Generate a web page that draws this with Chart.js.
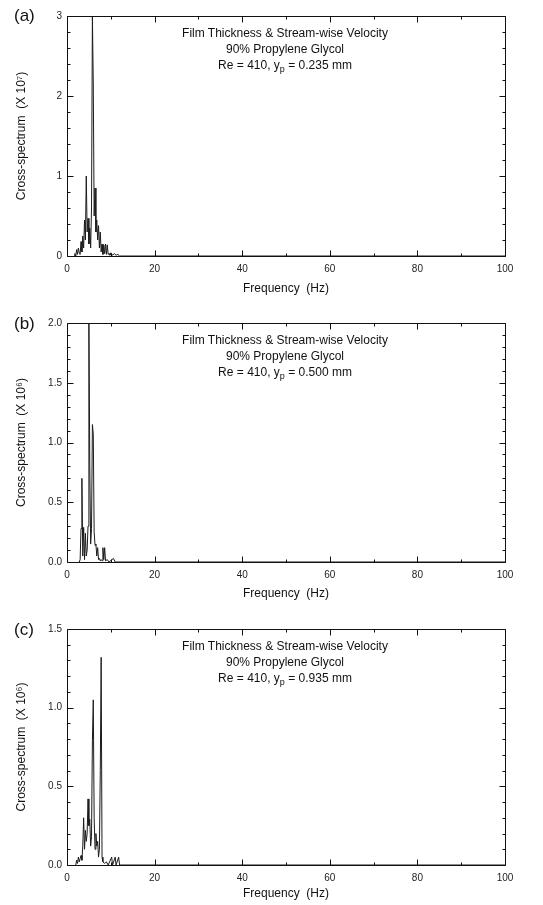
<!DOCTYPE html>
<html>
<head>
<meta charset="utf-8">
<script src="https://cdn.jsdelivr.net/npm/chart.js@4.4.1/dist/chart.umd.min.js"></script>
<style>
  html, body { margin:0; padding:0; background:#fff; }
  body { width:543px; height:905px; position:relative; overflow:hidden; font-family:"Liberation Sans", Arial, sans-serif; color:#111; }
  .wrap { position:absolute; left:0; width:543px; }
  .note { position:absolute; width:320px; text-align:center; font-size:12px; line-height:16px; }
  .plabel { position:absolute; font-size:17px; }
  sub { font-size:9px; vertical-align:-3px; line-height:0; }
</style>
</head>
<body>
<div class="wrap" style="top:0;height:300px"><canvas id="cA"></canvas></div>
<div class="wrap" style="top:300px;height:305px"><canvas id="cB"></canvas></div>
<div class="wrap" style="top:605px;height:300px"><canvas id="cC"></canvas></div>

<div class="plabel" style="left:14px;top:6px">(a)</div>
<div class="plabel" style="left:14px;top:314px">(b)</div>
<div class="plabel" style="left:14px;top:620px">(c)</div>

<div class="note" style="left:125px;top:25px">Film Thickness &amp; Stream-wise Velocity<br>90% Propylene Glycol<br>Re = 410, y<sub>p</sub> = 0.235 mm</div>
<div class="note" style="left:125px;top:332px">Film Thickness &amp; Stream-wise Velocity<br>90% Propylene Glycol<br>Re = 410, y<sub>p</sub> = 0.500 mm</div>
<div class="note" style="left:125px;top:638px">Film Thickness &amp; Stream-wise Velocity<br>90% Propylene Glycol<br>Re = 410, y<sub>p</sub> = 0.935 mm</div>

<script>
// ---------- DATA ----------
const xTickLabels = [0, 20, 40, 60, 80, 100];

// Panel (a): y_p = 0.235 mm, values in units of 1e7
const freqA = [1.6,1.8,2.0,2.2,2.4,2.6,2.8,3.0,3.2,3.4,3.6,3.8,4.0,4.2,4.4,4.6,4.8,5.0,5.2,5.4,5.6,5.8,6.0,6.2,6.4,6.6,6.8,7.0,7.2,7.4,7.6,7.8,8.0,8.2,8.4,8.6,8.8,9.0,9.2,9.4,9.6,9.8,10.0,10.4,10.8,11.2,11.6,12.0,100];
const crossA = [0,0.03,0,0.08,0.02,0.1,0.04,0.02,0.18,0.05,0.25,0.1,0.45,0.2,1.0,0.3,0.47,0.15,0.35,0.1,0.6,3.0,2.15,0.5,0.85,0.3,0.45,0.2,0.38,0.1,0.3,0.05,0.15,0.02,0.14,0.03,0.15,0.02,0.14,0.02,0.03,0.01,0.04,0.01,0.03,0.01,0.02,0,0];

// Panel (b): y_p = 0.500 mm, values in units of 1e6
const freqB = [2.8,3.0,3.2,3.4,3.6,3.8,4.0,4.2,4.4,4.6,4.8,5.0,5.2,5.4,5.6,5.8,6.0,6.2,6.4,6.6,6.8,7.0,7.2,7.4,7.6,7.8,8.0,8.2,8.4,8.6,8.8,9.2,9.6,10.6,11.0,100];
const crossB = [0,0.02,0.28,0.7,0.05,0.29,0.02,0.24,0.05,0.1,0.3,2.0,0.81,0.15,0.28,1.15,1.07,0.25,0.14,0.15,0.05,0.12,0.02,0.03,0.01,0.02,0.01,0.12,0.02,0.12,0.01,0.02,0,0.03,0,0];

// Panel (c): y_p = 0.935 mm, values in units of 1e6
const freqC = [2.0,2.2,2.4,2.6,2.8,3.0,3.2,3.4,3.6,3.8,4.0,4.2,4.4,4.6,4.8,5.0,5.2,5.4,5.6,5.8,6.0,6.2,6.4,6.6,6.8,7.0,7.2,7.4,7.6,7.8,8.0,8.2,8.6,9.0,9.4,10.2,10.4,11.0,11.2,11.8,12.0,100];
const crossC = [0,0.03,0.01,0.05,0.02,0.04,0.06,0.03,0.12,0.3,0.1,0.22,0.15,0.2,0.42,0.25,0.29,0.12,0.18,0.79,1.05,0.3,0.1,0.2,0.12,0.15,0.05,0.1,0.6,1.32,0.05,0.02,0.01,0.02,0,0.05,0,0.05,0,0.05,0,0];

const yTicksA = [0, 1, 2, 3];
const yTicksB = [0.0, 0.5, 1.0, 1.5, 2.0];
const yTicksC = [0.0, 0.5, 1.0, 1.5];

// ---------- STYLE / RENDER ----------
const FONT = '"Liberation Sans", Arial, sans-serif';

const frameTicks = {
  id: 'frameTicks',
  afterDatasetsDraw(chart, args, opts) {
    const { ctx, chartArea: { left, right, top, bottom }, scales: { x, y } } = chart;
    ctx.save();
    ctx.strokeStyle = '#111';
    ctx.lineWidth = 1;
    ctx.beginPath();
    const L = Math.round(left) + 0.5, R = Math.round(right) + 0.5, T = Math.round(top) + 0.5, B = Math.round(bottom) + 0.5;
    ctx.rect(L, T, R - L, B - T);
    for (let v = x.min; v <= x.max + 1e-9; v += opts.xMinor) {
      const px = Math.round(x.getPixelForValue(v)) + 0.5;
      const major = Math.abs(v / opts.xMajor - Math.round(v / opts.xMajor)) < 1e-6;
      const len = major ? 6 : 3;
      ctx.moveTo(px, B); ctx.lineTo(px, B - len);
      ctx.moveTo(px, T); ctx.lineTo(px, T + len);
    }
    const n = Math.round((y.max - y.min) / opts.yMinor);
    for (let i = 0; i <= n; i++) {
      const v = y.min + i * opts.yMinor;
      const py = Math.round(y.getPixelForValue(v)) + 0.5;
      const major = Math.abs(v / opts.yMajor - Math.round(v / opts.yMajor)) < 1e-6;
      const len = major ? 6 : 3;
      ctx.moveTo(L, py); ctx.lineTo(L + len, py);
      ctx.moveTo(R, py); ctx.lineTo(R - len, py);
    }
    ctx.stroke();
    ctx.restore();
  }
};

function makeChart(id, freq, vals, yTicks, cfg) {
  const pts = freq.map((f, i) => ({ x: f, y: vals[i] }));
  return new Chart(document.getElementById(id), {
    type: 'line',
    data: { datasets: [{ data: pts, borderColor: '#1b1b1b', borderWidth: 1, pointRadius: 0, tension: 0, fill: false }] },
    options: {
      responsive: true, maintainAspectRatio: false, animation: false,
      layout: { padding: { top: cfg.padTop, right: 38, left: 14, bottom: 0 } },
      plugins: { legend: { display: false }, tooltip: { enabled: false },
        frameTicks: { xMinor: 10, xMajor: 20, yMinor: cfg.yMinor, yMajor: cfg.yMajor } },
      scales: {
        x: {
          type: 'linear', min: 0, max: 100,
          grid: { display: false, drawTicks: false }, border: { display: false },
          afterBuildTicks: s => { s.ticks = xTickLabels.map(v => ({ value: v })); },
          ticks: { color: '#222', font: { family: FONT, size: 10 }, padding: 7, maxRotation: 0 },
          title: { display: true, text: 'Frequency  (Hz)', color: '#111', font: { family: FONT, size: 12 }, padding: { top: 0, bottom: cfg.titleBottom } },
          afterFit: s => { s.height = cfg.xAxisH; }
        },
        y: {
          min: yTicks[0], max: yTicks[yTicks.length - 1],
          grid: { display: false, drawTicks: false }, border: { display: false },
          afterBuildTicks: s => { s.ticks = yTicks.map(v => ({ value: v })); },
          ticks: { color: '#222', font: { family: FONT, size: 10 }, padding: 5, callback: v => cfg.fmt(v) },
          title: { display: true, text: cfg.yTitle, color: '#111', font: { family: FONT, size: 12 }, padding: { top: 0, bottom: 0 } },
          afterFit: s => { s.width = 53; }
        }
      }
    },
    plugins: [frameTicks]
  });
}

makeChart('cA', freqA, crossA, yTicksA, { padTop: 16, xAxisH: 44, titleBottom: 4, yMinor: 0.2, yMajor: 1, fmt: v => String(v), yTitle: 'Cross-spectrum  (X 10\u2077)' });
makeChart('cB', freqB, crossB, yTicksB, { padTop: 23, xAxisH: 43, titleBottom: 4, yMinor: 0.1, yMajor: 0.5, fmt: v => v.toFixed(1), yTitle: 'Cross-spectrum  (X 10\u2076)' });
makeChart('cC', freqC, crossC, yTicksC, { padTop: 24, xAxisH: 40, titleBottom: 4, yMinor: 0.1, yMajor: 0.5, fmt: v => v.toFixed(1), yTitle: 'Cross-spectrum  (X 10\u2076)' });
</script>
</body>
</html>
